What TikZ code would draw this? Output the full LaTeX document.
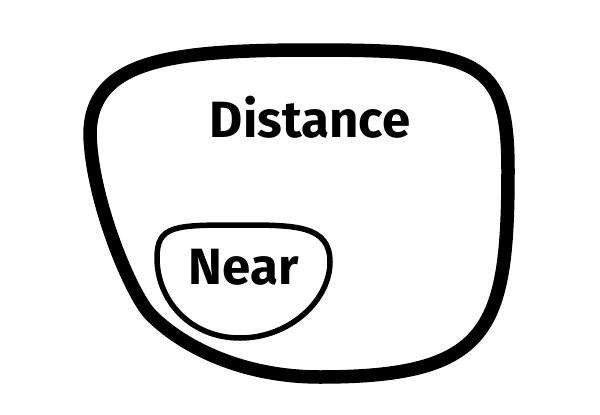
\documentclass[tikz,border=0pt]{standalone}
\usepackage{fontspec}
\setmainfont{Fira Sans}
\begin{document}
\begin{tikzpicture}[x=1pt,y=-1pt,
  outerlens/.style={line width=13.5pt,line join=round},
  innerlens/.style={line width=5.5pt,line join=round},
  lbl/.style={anchor=base,inner sep=0pt,font=\fontsize{51}{60}\selectfont\bfseries}]
\useasboundingbox[fill=white] (0,0) rectangle (600,415);
\draw[outerlens] (313,50) .. controls (480,50) and (508,60) .. (508,170)
  .. controls (508,330) and (490,377) .. (320,377)
  .. controls (240,377) and (180,345) .. (150,314)
  .. controls (130,292) and (92,200) .. (90,135)
  .. controls (90,60) and (170,50) .. cycle;
\draw[innerlens] (240,225) .. controls (295,225) and (330,225) .. (330,262)
  .. controls (330,300) and (290,338) .. (240,338)
  .. controls (190,338) and (157,300) .. (157,258)
  .. controls (157,225) and (175,225) .. cycle;
\node[lbl] (distance) at (310,137) {Distance};
\node[lbl] (near) at (243.5,284) {Near};
\end{tikzpicture}
\end{document}
